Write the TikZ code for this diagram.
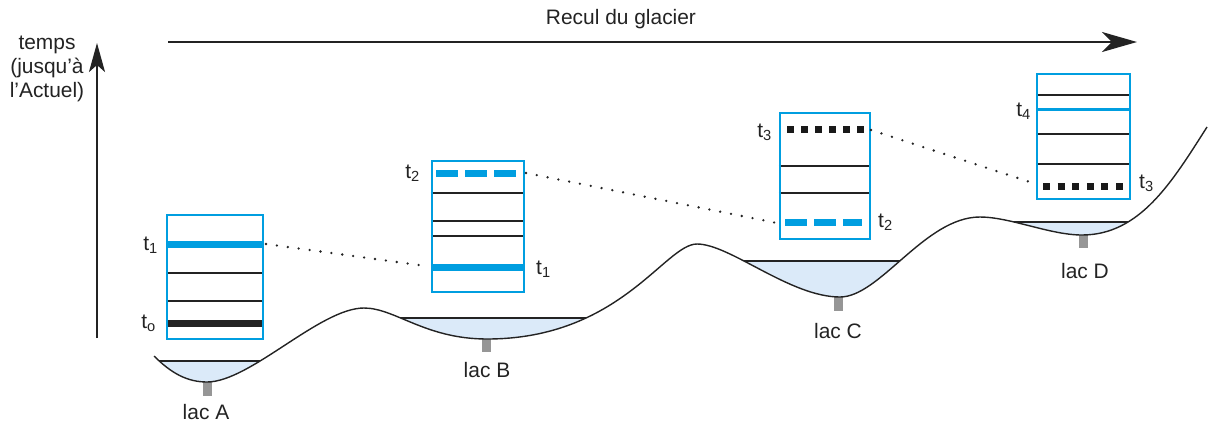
\documentclass[tikz,border=0pt]{standalone}
\usepackage{fontspec}
\setmainfont{Liberation Sans}
\usetikzlibrary{arrows.meta,backgrounds}

\definecolor{glacierblue}{RGB}{0,158,224}
\definecolor{lakefill}{RGB}{219,234,249}
\definecolor{inkgray}{RGB}{35,35,35}
\definecolor{stemgray}{RGB}{150,150,150}

\pgfdeclarelayer{paper}
\pgfsetlayers{paper,background,main}

% valley profile, from lac A up to the right-hand slope
\newcommand{\valleyline}{(154,356) .. controls (172,374) and (188,382) .. (207,382)
  .. controls (250,382) and (320,308) .. (364,308)
  .. controls (395,308) and (425,339) .. (487,339)
  .. controls (620,339) and (665,244) .. (697,244)
  .. controls (730,244) and (790,297) .. (840,297)
  .. controls (880,297) and (925,217) .. (980,217)
  .. controls (1010,217) and (1050,235) .. (1082,235)
  .. controls (1140,235) and (1172,182) .. (1207,127)}

\begin{document}
\begin{tikzpicture}[x=1bp,y=-1bp,
  txt/.style={font=\fontsize{21}{24}\selectfont, text=inkgray, inner sep=0pt},
  core/.style={draw=glacierblue, line width=2.5bp, inner sep=0pt, rectangle},
  thinlayer/.style={draw=inkgray, line width=1.2bp},
  thickblue/.style={draw=glacierblue, line width=7bp},
  thinblue/.style={draw=glacierblue, line width=3bp},
  thickblack/.style={draw=inkgray, line width=7bp},
  dashblue/.style={draw=glacierblue, line width=7bp, dash pattern=on 21.5bp off 7.5bp},
  squaredots/.style={draw=black!90, line width=7bp, dash pattern=on 7bp off #1},
  tieline/.style={draw=inkgray, line width=2.6bp, line cap=round, dash pattern=on 0bp off 11bp},
  surface/.style={draw=inkgray, line width=1.1bp},
  stem/.style={fill=stemgray},
  axis/.style={draw=inkgray, line width=#1}
]
\useasboundingbox (0,0) rectangle (1211,424);
\begin{pgfonlayer}{paper}
  \fill[white] (0,0) rectangle (1211,424);
\end{pgfonlayer}

% lakes: water filled up to each surface, kept above the valley floor
\begin{scope}
  \clip \valleyline -- (1211,0) -- (0,0) -- (0,356) -- cycle;
  \foreach \xa/\xb/\ys in {150/300/361, 370/620/318, 720/930/261, 990/1160/222} {
    \fill[lakefill] (\xa,\ys) rectangle (\xb,\ys+60);
    \draw[surface] (\xa,\ys) -- (\xb,\ys);
  }
\end{scope}

% sampling points below the lakes
\fill[stem] (203,382) rectangle (212,396);
\fill[stem] (482,339) rectangle (491,352);
\fill[stem] (834,297) rectangle (843,311);
\fill[stem] (1079,235) rectangle (1088,248);

% valley floor
\draw[inkgray, line width=1.4bp] \valleyline;

% sediment cores
\node[core, minimum width=96bp, minimum height=124bp] (coreA) at (215,277) {};
\node[core, minimum width=92bp, minimum height=131bp] (coreB) at (478,226.5) {};
\node[core, minimum width=90bp, minimum height=126bp] (coreC) at (825,176) {};
\node[core, minimum width=93bp, minimum height=125bp] (coreD) at (1083.5,136.5) {};

\begin{scope}[on background layer]
  % core A
  \draw[thickblue]  (coreA.west |- 0,244) -- (coreA.east |- 0,244);
  \draw[thinlayer]  (coreA.west |- 0,273) -- (coreA.east |- 0,273);
  \draw[thinlayer]  (coreA.west |- 0,301) -- (coreA.east |- 0,301);
  \draw[thickblack] (coreA.west |- 0,323) -- (coreA.east |- 0,323);
  % core B
  \draw[dashblue]   (436,173) -- (517,173);
  \draw[thinlayer]  (coreB.west |- 0,193) -- (coreB.east |- 0,193);
  \draw[thinlayer]  (coreB.west |- 0,221) -- (coreB.east |- 0,221);
  \draw[thinlayer]  (coreB.west |- 0,236) -- (coreB.east |- 0,236);
  \draw[thickblue]  (coreB.west |- 0,267) -- (coreB.east |- 0,267);
  % core C
  \draw[squaredots=7bp] (787,129) -- (864,129);
  \draw[thinlayer]  (coreC.west |- 0,166) -- (coreC.east |- 0,166);
  \draw[thinlayer]  (coreC.west |- 0,193) -- (coreC.east |- 0,193);
  \draw[dashblue]   (785,222) -- (862,222);
  % core D
  \draw[thinlayer]  (coreD.west |- 0,95) -- (coreD.east |- 0,95);
  \draw[thinblue]   (coreD.west |- 0,109) -- (coreD.east |- 0,109);
  \draw[thinlayer]  (coreD.west |- 0,134) -- (coreD.east |- 0,134);
  \draw[thinlayer]  (coreD.west |- 0,164) -- (coreD.east |- 0,164);
  \draw[squaredots=7.6bp] (1043,186) -- (1123,186);
\end{scope}

% correlations between cores
\coordinate (A1) at (266,244);
\coordinate (B1) at (426,266);
\coordinate (B2) at (526,173);
\coordinate (C2) at (777,223);
\coordinate (C3) at (871,130);
\coordinate (D3) at (1033,183);
\draw[tieline] (A1) -- (B1);
\draw[tieline] (B2) -- (C2);
\draw[tieline] (C3) -- (D3);

% time labels
\node[txt, anchor=base east] (lA1) at (158,250) {t\textsubscript{1}};
\node[txt, anchor=base east] (lA0) at (156,328) {t\textsubscript{o}};
\node[txt, anchor=base east] (lB2) at (420,178) {t\textsubscript{2}};
\node[txt, anchor=base west] (lB1) at (536,274) {t\textsubscript{1}};
\node[txt, anchor=base east] (lC3) at (772,137) {t\textsubscript{3}};
\node[txt, anchor=base west] (lC2) at (878,227) {t\textsubscript{2}};
\node[txt, anchor=base east] (lD4) at (1031,116) {t\textsubscript{4}};
\node[txt, anchor=base west] (lD3) at (1139,188) {t\textsubscript{3}};

% lake names
\node[txt, anchor=base] (lacA) at (206,419) {lac A};
\node[txt, anchor=base] (lacB) at (487,377) {lac B};
\node[txt, anchor=base] (lacC) at (838,338) {lac C};
\node[txt, anchor=base] (lacD) at (1085,278) {lac D};

% axes
\coordinate (tbase) at (97,338);
\coordinate (ttop) at (97,43);
\draw[axis=2bp, -{Stealth[length=29bp, width=16bp, inset=7bp]}] (tbase) -- (ttop);
\node[txt, align=center] (temps) at (47,69) {temps\\(jusqu’à\\l’Actuel)};

\coordinate (rstart) at (168,42);
\coordinate (rend) at (1137,42);
\draw[axis=2.5bp, -{Stealth[length=35bp, width=20bp, inset=10bp]}] (rstart) -- (rend);
\node[txt, anchor=base] (recul) at (621,24) {Recul du glacier};

\end{tikzpicture}
\end{document}
